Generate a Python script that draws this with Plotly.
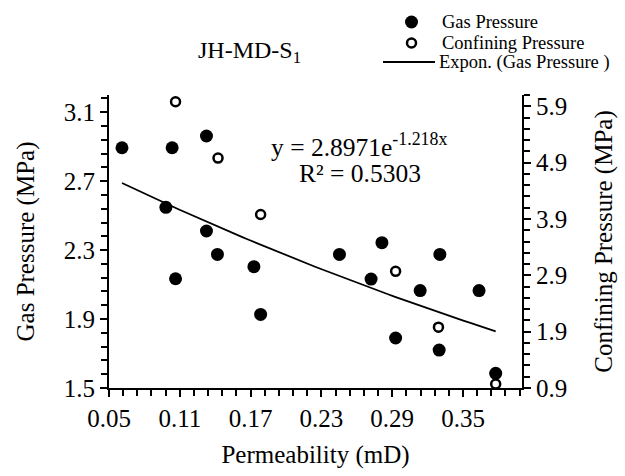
import numpy as np
import plotly.graph_objects as go

# ---- data ----
gas_perm = [0.061, 0.1035, 0.1326, 0.0982, 0.1326, 0.1419, 0.1064, 0.1728, 0.1785,
            0.2453, 0.2813, 0.3304, 0.2721, 0.3137, 0.3636, 0.2929, 0.3298, 0.3777]
gas_pressure = [2.894, 2.894, 2.962, 2.548, 2.411, 2.275, 2.134, 2.204, 1.927,
                2.275, 2.343, 2.275, 2.132, 2.065, 2.065, 1.79, 1.72, 1.585]

conf_perm = [0.1064, 0.1424, 0.1785, 0.2929, 0.3292, 0.3777]
conf_pressure = [5.98, 4.98, 3.98, 2.97, 1.98, 0.97]

# exponential trendline coefficients (as printed on the chart)
fit_a = 2.8971
fit_k = -1.218
fit_r2 = 0.5303

series_names = ["Gas Pressure", "Confining Pressure", "Expon. (Gas Pressure )"]

FONT = "Liberation Serif"
W, H = 625, 476
ML, MR, MT, MB = 109, 103, 95, 88
PW, PH = W - ML - MR, H - MT - MB


def px(x):
    return (x - ML) / PW


def py(y):
    return (H - MB - y) / PH


trend_x = np.linspace(min(gas_perm), max(gas_perm), 60)
trend_y = fit_a * np.exp(fit_k * trend_x)

fig = go.Figure()
fig.add_trace(go.Scatter(
    x=gas_perm, y=gas_pressure, mode="markers", name=series_names[0],
    marker=dict(symbol="circle", size=13, color="black"),
))
fig.add_trace(go.Scatter(
    x=conf_perm, y=conf_pressure, mode="markers", name=series_names[1],
    yaxis="y2",
    marker=dict(symbol="circle-open", size=9, color="black", line=dict(width=2.5, color="black")),
))
fig.add_trace(go.Scatter(
    x=trend_x, y=trend_y, mode="lines", name=series_names[2],
    line=dict(color="black", width=1.8),
))

axis_common = dict(
    showgrid=False, zeroline=False, showline=True, linecolor="black", linewidth=2,
    ticks="outside", ticklen=7, tickwidth=2, tickcolor="black",
    tickfont=dict(family=FONT, size=25, color="black"),
)

# legend drawn by hand (matches the reference's compact spacing and long line sample)
legend_rows_y = [22, 43, 62]
legend_text_x = [440, 440, 437]
shapes = [
    dict(type="circle", xref="paper", yref="paper", xsizemode="pixel", ysizemode="pixel",
         xanchor=px(411.5), yanchor=py(legend_rows_y[0]), x0=-6.5, x1=6.5, y0=-6.5, y1=6.5,
         fillcolor="black", line=dict(color="black", width=0)),
    dict(type="circle", xref="paper", yref="paper", xsizemode="pixel", ysizemode="pixel",
         xanchor=px(411.5), yanchor=py(legend_rows_y[1]), x0=-4.5, x1=4.5, y0=-4.5, y1=4.5,
         fillcolor="rgba(0,0,0,0)", line=dict(color="black", width=2.5)),
    dict(type="line", xref="paper", yref="paper",
         x0=px(383), x1=px(435), y0=py(legend_rows_y[2]), y1=py(legend_rows_y[2]),
         line=dict(color="black", width=1.8)),
]
annotations = [
    dict(text=series_names[i], xref="paper", yref="paper", x=px(legend_text_x[i]),
         y=py(legend_rows_y[i]), xanchor="left", yanchor="middle", showarrow=False,
         font=dict(family=FONT, size=18.5, color="black"))
    for i in range(3)
]
annotations += [
    dict(text="JH-MD-S<sub>1</sub>", xref="paper", yref="paper",
         x=px(249), y=py(52), showarrow=False, xanchor="center", yanchor="middle",
         font=dict(family=FONT, size=24, color="black")),
    dict(text=f"y = {fit_a}e<sup>{fit_k}x</sup>", xref="paper", yref="paper",
         x=px(359), y=py(145), showarrow=False, xanchor="center", yanchor="middle",
         font=dict(family=FONT, size=25.5, color="black")),
    dict(text=f"R² = {fit_r2}", xref="paper", yref="paper",
         x=px(360), y=py(173), showarrow=False, xanchor="center", yanchor="middle",
         font=dict(family=FONT, size=25.5, color="black")),
]

fig.update_layout(
    width=W, height=H,
    margin=dict(l=ML, r=MR, t=MT, b=MB, autoexpand=False),
    paper_bgcolor="white", plot_bgcolor="white",
    font=dict(family=FONT, color="black"),
    showlegend=False,
    xaxis=dict(
        **axis_common, range=[0.05, 0.40], tick0=0.05, dtick=0.06,
        tickformat=".2f",
        minor=dict(ticks="outside", dtick=0.012, tick0=0.05, ticklen=6, tickwidth=2, tickcolor="black"),
        title=dict(text="Permeability (mD)", font=dict(family=FONT, size=25, color="black"), standoff=14),
    ),
    yaxis=dict(
        **axis_common, range=[1.5, 3.2], tick0=1.5, dtick=0.4, tickformat=".1f",
        minor=dict(ticks="outside", dtick=0.08, tick0=1.5, ticklen=6, tickwidth=2, tickcolor="black"),
        title=dict(text="Gas Pressure (MPa)", font=dict(family=FONT, size=25, color="black"), standoff=22),
    ),
    yaxis2=dict(
        **axis_common, range=[0.9, 6.1], tick0=0.9, dtick=1.0, tickformat=".1f",
        overlaying="y", side="right",
        minor=dict(ticks="outside", dtick=0.2, tick0=0.9, ticklen=6, tickwidth=2, tickcolor="black"),
        title=dict(text="Confining Pressure (MPa)", font=dict(family=FONT, size=25, color="black"), standoff=28),
    ),
    shapes=shapes,
    annotations=annotations,
)

fig.write_html("out.html", config={"displayModeBar": False},
               post_script="document.body.style.margin='0';")
